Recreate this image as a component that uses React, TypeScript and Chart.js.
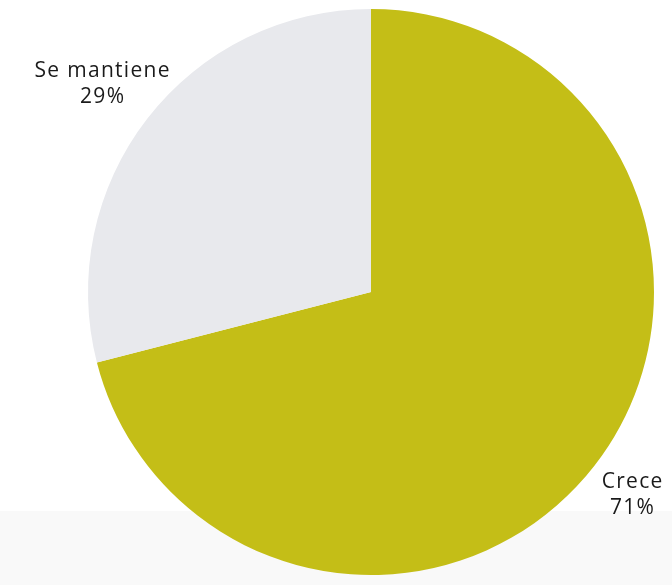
import React, { useEffect, useRef } from "react";
import { Chart, registerables } from "chart.js";

Chart.register(...registerables);

const categories = ["Crece", "Se mantiene"];
const values = [71, 29];
const valueLabels = ["71%", "29%"];
const colors = ["#C4BE17", "#E8E9ED"];

const labelPlugin = {
  id: "outerLabels",
  afterDraw(chart: any) {
    const ctx = chart.ctx;
    const meta = chart.getDatasetMeta(0);
    const factors = [1.17, 1.2];
    ctx.save();
    ctx.fillStyle = "#1a1a1a";
    ctx.font = "400 21px 'Open Sans', sans-serif";
    try { (ctx as any).letterSpacing = "1.3px"; } catch (e) {}
    ctx.textAlign = "center";
    ctx.textBaseline = "middle";
    meta.data.forEach((arc: any, i: number) => {
      const p = arc.getProps(["x", "y", "startAngle", "endAngle", "outerRadius"], true);
      const mid = (p.startAngle + p.endAngle) / 2;
      const r = p.outerRadius * factors[i];
      const cx = p.x + Math.cos(mid) * r;
      const cy = p.y + Math.sin(mid) * r;
      ctx.fillText(categories[i], cx, cy - 13);
      ctx.fillText(valueLabels[i], cx, cy + 13);
    });
    ctx.restore();
  },
};

export default function App() {
  const ref = useRef<HTMLCanvasElement>(null);
  useEffect(() => {
    document.body.style.margin = "0";
    const chart = new Chart(ref.current!, {
      type: "pie",
      data: {
        labels: categories,
        datasets: [
          {
            data: values,
            backgroundColor: colors,
            borderWidth: 0,
          },
        ],
      },
      options: {
        responsive: false,
        animation: false,
        layout: { padding: { top: 9, bottom: 10, left: 88, right: 18 } },
        plugins: { legend: { display: false }, tooltip: { enabled: false } },
      },
      plugins: [labelPlugin],
    });
    return () => chart.destroy();
  }, []);
  return (
    <div style={{ position: "relative", width: 672, height: 585, background: "#ffffff", overflow: "hidden" }}>
      <div style={{ position: "absolute", left: 0, top: 511, width: 672, height: 74, background: "#F9F9F9" }} />
      <canvas ref={ref} width={672} height={585} style={{ position: "absolute", left: 0, top: 0 }} />
    </div>
  );
}
